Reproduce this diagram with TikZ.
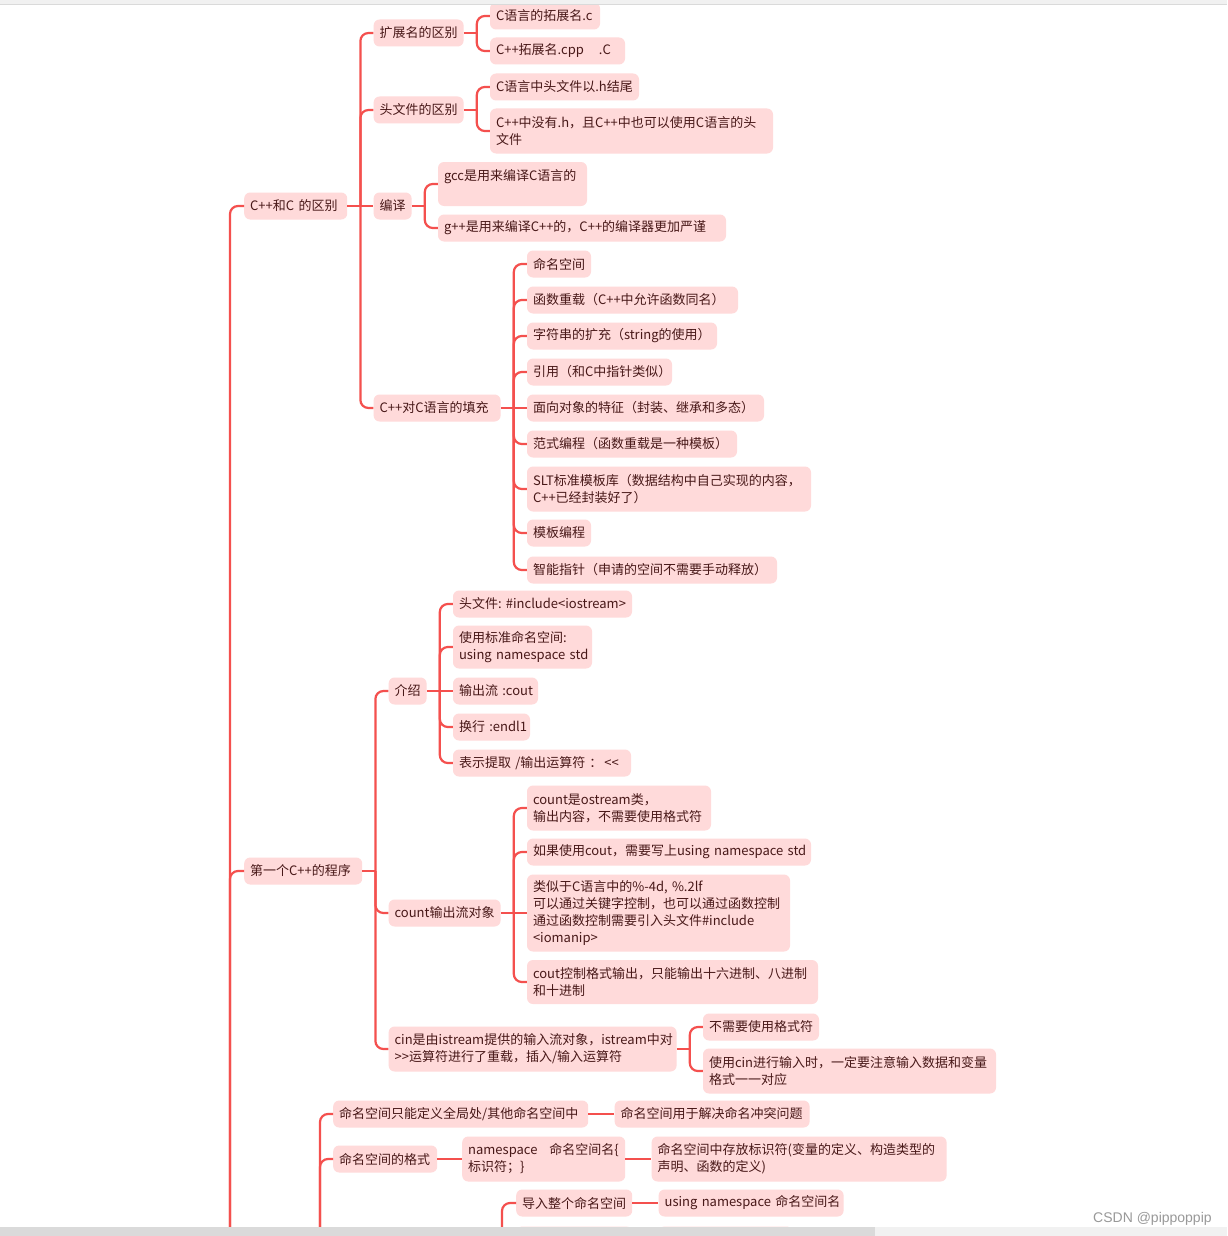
\documentclass[tikz,border=0pt]{standalone}
\usepackage{fontspec}
\usepackage{xcolor}
\usepackage{tikz}
\newfontfamily\cjk{Noto Sans CJK SC}
\newfontfamily\markfont{Liberation Sans}
\definecolor{topicfill}{RGB}{255,218,218}
\definecolor{topicink}{RGB}{72,24,24}
\definecolor{linkred}{RGB}{244,80,78}
\definecolor{barlight}{RGB}{241,241,241}
\definecolor{bardark}{RGB}{218,218,218}
\hyphenpenalty=10000
\exhyphenpenalty=10000

\begin{document}
\begin{tikzpicture}[x=1pt, y=-1pt,
  topic/.style={fill=topicfill, text=topicink, rounded corners=6pt, anchor=west,
    font=\cjk\fontsize{13}{17}\selectfont, align=left, inner xsep=6pt, inner ysep=5pt,
    minimum height=27pt},
  sub/.style={topic, xshift=26pt},
  link/.style={draw=linkred, line width=2.2pt, rounded corners=8pt}
]
  \useasboundingbox (0,0) rectangle (1227,1236);
  \clip (0,0) rectangle (1227,1236);
  \fill[white] (0,0) rectangle (1227,1236);

  % first level
  \node[topic, text width=91pt] (n1) at (244,206) {C++和C~的区别};
  \node[topic, text width=106pt] (n2) at (244,871) {第一个C++的程序};

  % C++ vs C
  \node[sub, text width=78pt] (a1) at (n1.east |- 0,33) {扩展名的区别};
  \node[sub, text width=78pt] (a2) at (n1.east |- 0,110) {头文件的区别};
  \node[sub, text width=26pt] (a3) at (n1.east |- 0,206) {编译};
  \node[sub, text width=115pt] (a4) at (n1.east |- 0,408) {C++对C语言的填充};
  \node[sub, text width=98pt] (a11) at (a1.east |- 0,16) {C语言的拓展名.c};
  \node[sub, text width=123pt] (a12) at (a1.east |- 0,51) {C++拓展名.cpp\kern15pt.C};
  \node[sub, text width=137pt] (a21) at (a2.east |- 0,87) {C语言中头文件以.h结尾};
  \node[sub, text width=271pt, minimum height=45pt] (a22) at (a2.east |- 0,131) {C++中没有.h，且C++中也可以使用C语言的头\\文件};
  \node[sub, text width=137pt, minimum height=44pt] (a31) at (a3.east |- 0,184) {gcc是用来编译C语言的\\\mbox{}};
  \node[sub, text width=276pt] (a32) at (a3.east |- 0,228) {g++是用来编译C++的，C++的编译器更加严谨};
  \node[sub, text width=52pt] (a41) at (a4.east |- 0,264) {命名空间};
  \node[sub, text width=199pt] (a42) at (a4.east |- 0,300) {函数重载（C++中允许函数同名）};
  \node[sub, text width=178pt] (a43) at (a4.east |- 0,336) {字符串的扩充（string的使用）};
  \node[sub, text width=133pt] (a44) at (a4.east |- 0,372) {引用（和C中指针类似）};
  \node[sub, text width=225pt] (a45) at (a4.east |- 0,408) {面向对象的特征（封装、继承和多态）};
  \node[sub, text width=198pt] (a46) at (a4.east |- 0,444) {范式编程（函数重载是一种模板）};
  \node[sub, text width=272pt, minimum height=45pt] (a47) at (a4.east |- 0,489) {SLT标准模板库（数据结构中自己实现的内容，\\C++已经封装好了）};
  \node[sub, text width=52pt] (a48) at (a4.east |- 0,533) {模板编程};
  \node[sub, text width=238pt] (a49) at (a4.east |- 0,570) {智能指针（申请的空间不需要手动释放）};

  % first program
  \node[sub, text width=26pt] (b1) at (n2.east |- 0,691) {介绍};
  \node[sub, text width=100pt] (b2) at (n2.east |- 0,913) {count输出流对象};
  \node[sub, text width=276pt, minimum height=45pt] (b3) at (n2.east |- 0,1049) {cin是由istream提供的输入流对象，istream中对\\>\kern0pt>运算符进行了重载，插入/输入运算符};
  \node[sub, text width=167pt] (b11) at (b1.east |- 0,604) {头文件:~\#include<iostream>};
  \node[sub, text width=127pt, minimum height=43pt] (b12) at (b1.east |- 0,647) {使用标准命名空间:\\using~namespace~std};
  \node[sub, text width=73pt] (b13) at (b1.east |- 0,691) {输出流~:cout};
  \node[sub, text width=65pt] (b14) at (b1.east |- 0,727) {换行~:endl1};
  \node[sub, text width=166pt] (b15) at (b1.east |- 0,763) {表示提取~/输出运算符\kern4pt：\kern2pt<\kern0pt<};
  \node[sub, text width=172pt, minimum height=45pt] (b21) at (b2.east |- 0,808) {count是ostream类，\\输出内容，不需要使用格式符};
  \node[sub, text width=272pt] (b22) at (b2.east |- 0,852) {如果使用cout，需要写上using~namespace~std};
  \node[sub, text width=251pt, minimum height=77pt] (b23) at (b2.east |- 0,913) {类似于C语言中的\%-4d,~\%.2lf\\可以通过关键字控制，也可以通过函数控制\\通过函数控制需要引入头文件\#include\\<iomanip>};
  \node[sub, text width=279pt, minimum height=44pt] (b24) at (b2.east |- 0,982) {cout控制格式输出，只能输出十六进制、八进制\\和十进制};
  \node[sub, text width=104pt] (b31) at (b3.east |- 0,1027) {不需要使用格式符};
  \node[sub, text width=281pt, minimum height=45pt] (b32) at (b3.east |- 0,1071) {使用cin进行输入时，一定要注意输入数据和变量\\格式一一对应};

  % namespace (its parents lie below the page)
  \coordinate (root) at (230,1260);
  \coordinate (nsfork) at (320,1260);
  \coordinate (impfork) at (502,1260);
  \node[topic, text width=243pt] (c1) at (333,1114) {命名空间只能定义全局处/其他命名空间中};
  \node[sub, text width=183pt] (c11) at (c1.east) {命名空间用于解决命名冲突问题};
  \node[topic, text width=92pt] (c2) at (333,1159) {命名空间的格式};
  \node[topic, text width=151pt, minimum height=45pt] (c21) at (462,1159) {namespace\kern12pt命名空间名\{\\标识符；\}};
  \node[sub, text width=283pt, minimum height=45pt] (c22) at (c21.east) {命名空间中存放标识符(变量的定义、构造类型的\\声明、函数的定义)};
  \node[topic, text width=104pt] (c31) at (516,1203) {导入整个命名空间};
  \node[sub, text width=173pt] (c311) at (c31.east) {using~namespace~命名空间名};
  \node[topic, text width=104pt] (c32) at (516,1240) {};
  \node[sub, text width=122pt] (c321) at (c32.east) {};

  % links
  \draw[link] (root) |- (n1.west);
  \draw[link] (root) |- (n2.west);

  \draw[link] (n1.east) -- (a3.west);
  \draw[link] (n1.east) ++(13,0) |- (a1.west);
  \draw[link] (n1.east) ++(13,0) |- (a2.west);
  \draw[link] (n1.east) ++(13,0) |- (a4.west);

  \draw[link] (a1.east) -- ++(13,0);
  \draw[link] (a1.east) ++(13,0) |- (a11.west);
  \draw[link] (a1.east) ++(13,0) |- (a12.west);
  \draw[link] (a2.east) -- ++(13,0);
  \draw[link] (a2.east) ++(13,0) |- (a21.west);
  \draw[link] (a2.east) ++(13,0) |- (a22.west);
  \draw[link] (a3.east) -- ++(13,0);
  \draw[link] (a3.east) ++(13,0) |- (a31.west);
  \draw[link] (a3.east) ++(13,0) |- (a32.west);

  \draw[link] (a4.east) -- (a45.west);
  \draw[link] (a4.east) ++(13,0) |- (a41.west);
  \draw[link] (a4.east) ++(13,0) |- (a42.west);
  \draw[link] (a4.east) ++(13,0) |- (a43.west);
  \draw[link] (a4.east) ++(13,0) |- (a44.west);
  \draw[link] (a4.east) ++(13,0) |- (a46.west);
  \draw[link] (a4.east) ++(13,0) |- (a47.west);
  \draw[link] (a4.east) ++(13,0) |- (a48.west);
  \draw[link] (a4.east) ++(13,0) |- (a49.west);

  \draw[link] (n2.east) -- ++(13,0);
  \draw[link] (n2.east) ++(13,0) |- (b1.west);
  \draw[link] (n2.east) ++(13,0) |- (b2.west);
  \draw[link] (n2.east) ++(13,0) |- (b3.west);

  \draw[link] (b1.east) -- (b13.west);
  \draw[link] (b1.east) ++(13,0) |- (b11.west);
  \draw[link] (b1.east) ++(13,0) |- (b12.west);
  \draw[link] (b1.east) ++(13,0) |- (b14.west);
  \draw[link] (b1.east) ++(13,0) |- (b15.west);

  \draw[link] (b2.east) -- (b23.west);
  \draw[link] (b2.east) ++(13,0) |- (b21.west);
  \draw[link] (b2.east) ++(13,0) |- (b22.west);
  \draw[link] (b2.east) ++(13,0) |- (b24.west);

  \draw[link] (b3.east) -- ++(13,0);
  \draw[link] (b3.east) ++(13,0) |- (b31.west);
  \draw[link] (b3.east) ++(13,0) |- (b32.west);

  \draw[link] (nsfork) |- (c1.west);
  \draw[link] (nsfork) |- (c2.west);
  \draw[link] (c1.east) -- (c11.west);
  \draw[link] (c2.east) -- (c21.west);
  \draw[link] (c21.east) -- (c22.west);
  \draw[link] (impfork) |- (c31.west);
  \draw[link] (impfork) |- (c32.west);
  \draw[link] (c31.east) -- (c311.west);
  \draw[link] (c32.east) -- (c321.west);

  % window frame
  \fill[barlight] (0,0) rectangle (1227,4);
  \draw[bardark] (0,4.5) -- (1227,4.5);
  \fill[bardark] (0,1227) rectangle (875,1236);
  \fill[barlight] (875,1227) rectangle (1227,1236);
  \node[anchor=west, inner sep=0pt, font=\markfont\fontsize{14}{16}\selectfont, text=black!40] (mark) at (1093,1219) {CSDN @pippoppip};
\end{tikzpicture}
\end{document}
